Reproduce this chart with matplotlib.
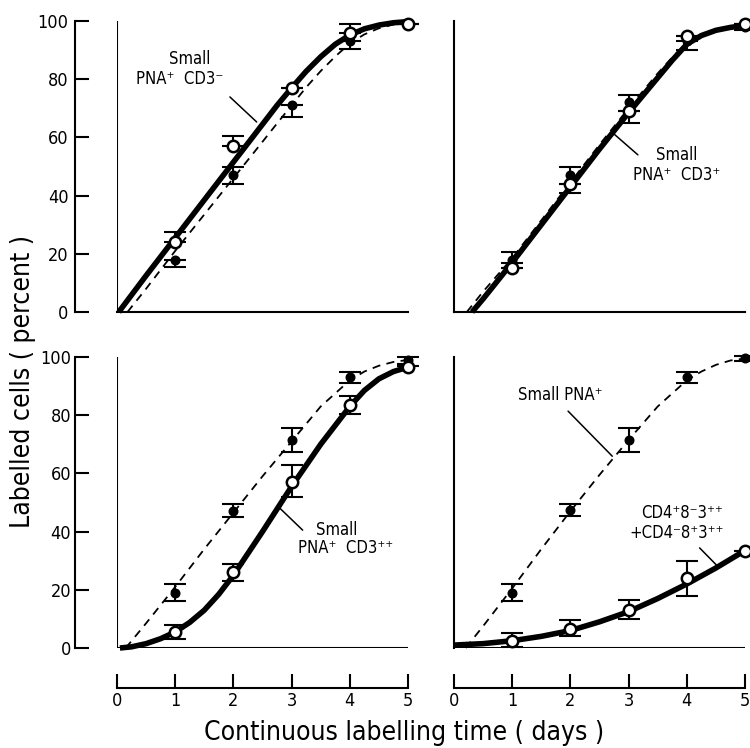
import matplotlib
matplotlib.use("Agg")
import matplotlib.pyplot as plt

plt.rcParams['font.family'] = ['DejaVu Sans']
FONT = dict(family=['DejaVu Sans'], stretch='condensed')

days = [1, 2, 3, 4, 5]
y_ticks = [0, 20, 40, 60, 80, 100]
x_ticks = [0, 1, 2, 3, 4, 5]

# ---- panel A: Small PNA+ CD3-
a_open = [24, 57, 77, 96, 99]
a_open_lo = [0, 0, 0, 0, 0]
a_open_hi = [3.5, 3.5, 0, 3, 1]
a_fill = [18, 47, 71, 93, 99]
a_fill_lo = [2.5, 3, 4, 2.5, 0]
a_fill_hi = [0, 3, 0, 0, 0]
a_solid_x = [0.03, 0.5, 1, 1.5, 2, 2.5, 2.75, 3, 3.25, 3.5, 3.75, 4, 4.25, 4.5, 4.75, 5]
a_solid_y = [0, 12.5, 25.5, 38.5, 51.5, 64.5, 71, 77, 82.7, 87.7, 92, 95.2, 97.3, 98.6, 99.4, 99.8]
a_dash_x = [0.18, 0.5, 1, 1.5, 2, 2.5, 2.75, 3, 3.25, 3.5, 3.75, 4, 4.25, 4.5, 4.75, 5]
a_dash_y = [0, 8, 21, 33.5, 46, 58.5, 64.8, 71, 77.2, 82.8, 87.8, 92.3, 95.4, 97.5, 98.8, 99.5]

# ---- panel B: Small PNA+ CD3+
b_open = [15, 44, 69, 95, 99]
b_open_lo = [0, 0, 0, 0, 0]
b_open_hi = [0, 0, 0, 0, 0]
b_fill = [18, 47, 72, 93, 98]
b_fill_lo = [1, 6, 7, 3, 1]
b_fill_hi = [2.5, 3, 2.5, 0, 1]
b_solid_x = [0.31, 0.5, 1, 1.5, 2, 2.5, 3, 3.25, 3.5, 3.75, 4, 4.25, 4.5, 4.75, 5]
b_solid_y = [0, 4.5, 17, 30, 43, 56, 68.5, 74.5, 80.5, 86.5, 92, 95, 96.8, 97.8, 98.5]
b_dash_x = [0.22, 0.5, 1, 1.5, 2, 2.5, 3, 3.25, 3.5, 3.75, 4, 4.25, 4.5, 4.75, 5]
b_dash_y = [0, 7, 18.5, 31.5, 44.5, 57.5, 70, 76, 82, 87.5, 92.5, 95.3, 97, 98, 98.5]

# ---- panel C: Small PNA+ CD3++
c_open = [5.5, 26, 57, 83.5, 96.5]
c_open_lo = [2.5, 3, 5, 3, 1]
c_open_hi = [2.5, 3, 6, 3, 1]
c_fill = [19, 47, 71.5, 93, 99]
c_fill_lo = [3, 2, 4, 2, 2]
c_fill_hi = [3, 2.5, 4, 2, 1]
c_solid_x = [0.05, 0.25, 0.5, 0.75, 1, 1.25, 1.5, 1.75, 2, 2.5, 3, 3.5, 4, 4.25, 4.5, 4.75, 5]
c_solid_y = [0, 0.4, 1.5, 3.2, 5.5, 8.8, 13, 18.5, 25, 40, 55.5, 70, 83, 88.5, 92.5, 95, 96.5]
c_dash_x = [0.15, 0.5, 1, 1.5, 2, 2.5, 3, 3.5, 4, 4.25, 4.5, 4.75, 5]
c_dash_y = [0, 8.5, 21, 34, 46.5, 59, 71, 83, 92, 95, 97, 98.3, 99]

# ---- panel D: Small PNA+ vs CD4+8-3++ + CD4-8+3++
d_open = [2.5, 6.5, 13, 24, 33.5]
d_open_lo = [2, 2.5, 3, 6, 0]
d_open_hi = [2.5, 3, 3.5, 6, 0]
d_fill = [19, 47.5, 71.5, 93, 99.5]
d_fill_lo = [3, 2, 4, 2, 1]
d_fill_hi = [3, 2, 4, 2, 1]
d_solid_x = [0, 0.5, 1, 1.5, 2, 2.5, 3, 3.5, 4, 4.5, 5]
d_solid_y = [1, 1.5, 2.5, 4, 6, 9, 12.5, 17, 22, 27.5, 33.5]
d_dash_x = [0.2, 0.5, 1, 1.5, 2, 2.5, 3, 3.5, 4, 4.25, 4.5, 4.75, 5]
d_dash_y = [0, 7.5, 20.5, 34, 47, 59.5, 71.5, 83, 92, 95, 97.3, 98.8, 99.5]

W, H = 750, 748
fig = plt.figure(figsize=(W / 100, H / 100), dpi=100)


def axes_px(left, top, right, bottom):
    return fig.add_axes([left / W, 1 - bottom / H, (right - left) / W, (bottom - top) / H])


axA = axes_px(117, 21, 408, 312)
axB = axes_px(454, 21, 745, 312)
axC = axes_px(117, 357, 408, 648)
axD = axes_px(454, 357, 745, 648)

panels = [
    (axA, a_open, a_open_lo, a_open_hi, a_fill, a_fill_lo, a_fill_hi, a_solid_x, a_solid_y, a_dash_x, a_dash_y),
    (axB, b_open, b_open_lo, b_open_hi, b_fill, b_fill_lo, b_fill_hi, b_solid_x, b_solid_y, b_dash_x, b_dash_y),
    (axC, c_open, c_open_lo, c_open_hi, c_fill, c_fill_lo, c_fill_hi, c_solid_x, c_solid_y, c_dash_x, c_dash_y),
    (axD, d_open, d_open_lo, d_open_hi, d_fill, d_fill_lo, d_fill_hi, d_solid_x, d_solid_y, d_dash_x, d_dash_y),
]

for ax, op, oplo, ophi, fl, fllo, flhi, sx, sy, dx, dy in panels:
    ax.set_xlim(0, 5)
    ax.set_ylim(0, 100)
    for s in ['top', 'right']:
        ax.spines[s].set_visible(False)
    ax.spines['left'].set_linewidth(1.5)
    ax.spines['bottom'].set_linewidth(1.5)
    ax.tick_params(left=False, bottom=False, labelleft=False, labelbottom=False)
    ax.plot(dx, dy, color='black', lw=1.3, dashes=(4.5, 3.5), clip_on=False, zorder=2)
    ax.errorbar(days, fl, yerr=[fllo, flhi], fmt='o', color='black', ms=6.2,
                capsize=8, capthick=1.5, elinewidth=1.5, clip_on=False, zorder=3)
    ax.plot(sx, sy, color='black', lw=4.0, solid_capstyle='butt', solid_joinstyle='round',
            clip_on=False, zorder=4)
    ax.errorbar(days, op, yerr=[oplo, ophi], fmt='none', ecolor='black',
                capsize=8, capthick=1.5, elinewidth=1.5, zorder=5)
    ax.plot(days, op, 'o', ms=8.2, mfc='white', mec='black', mew=1.8, clip_on=False, zorder=6)

# offset y axes on left panels
for ax in (axA, axC):
    ax.axvline(0, color='black', lw=1.5, zorder=1)
    ax.spines['left'].set_position(('outward', 30))
    ax.set_yticks(y_ticks)
    ax.tick_params(left=True, labelleft=True, direction='in', length=10, width=1.5, pad=5)
    for t in ax.get_yticklabels():
        t.set_fontsize(13)
        t.set_fontstretch('condensed')

# offset x axes on bottom panels
for ax in (axC, axD):
    ax.axhline(0, color='black', lw=1.5, zorder=1)
    ax.spines['bottom'].set_position(('outward', 29))
    ax.set_xticks(x_ticks)
    ax.tick_params(bottom=True, labelbottom=True, direction='in', length=10, width=1.5, pad=3)
    for t in ax.get_xticklabels():
        t.set_fontsize(13)
        t.set_fontstretch('condensed')

ann_fs = 12
line_kw = dict(arrowstyle='-', color='black', lw=1.1, shrinkA=0, shrinkB=0)

# Panel A
axA.text(1.25, 87, 'Small', ha='center', va='center', fontsize=ann_fs, **FONT)
axA.text(1.08, 80, 'PNA\u207a  CD3\u207b', ha='center', va='center', fontsize=ann_fs, **FONT)
axA.annotate('', xy=(2.40, 65.3), xytext=(1.94, 73.9), arrowprops=line_kw)

# Panel B
axB.text(3.82, 54, 'Small', ha='center', va='center', fontsize=ann_fs, **FONT)
axB.text(3.82, 47, 'PNA\u207a  CD3\u207a', ha='center', va='center', fontsize=ann_fs, **FONT)
axB.annotate('', xy=(2.73, 61.5), xytext=(3.16, 54), arrowprops=line_kw)

# Panel C
axC.text(3.78, 40.5, 'Small', ha='center', va='center', fontsize=ann_fs, **FONT)
axC.text(3.92, 34.5, 'PNA\u207a  CD3\u207a\u207a', ha='center', va='center', fontsize=ann_fs, **FONT)
axC.annotate('', xy=(2.80, 48), xytext=(3.19, 40.5), arrowprops=line_kw)

# Panel D
axD.text(1.83, 87, 'Small PNA\u207a', ha='center', va='center', fontsize=ann_fs, **FONT)
axD.annotate('', xy=(2.72, 65.9), xytext=(1.96, 81.4), arrowprops=line_kw)
axD.text(3.91, 46.4, 'CD4\u207a8\u207b3\u207a\u207a', ha='center', va='center', fontsize=ann_fs, **FONT)
axD.text(3.83, 39.5, '+CD4\u207b8\u207a3\u207a\u207a', ha='center', va='center', fontsize=ann_fs, **FONT)
axD.annotate('', xy=(4.51, 28.5), xytext=(4.22, 34.4), arrowprops=line_kw)

fig.text(23 / W, 1 - 381 / H, 'Labelled cells ( percent )', rotation=90, ha='center', va='center',
         fontsize=19, **FONT)
fig.text(404 / W, 1 - 733 / H, 'Continuous labelling time ( days )', ha='center', va='center',
         fontsize=19, **FONT)

fig.savefig('out.png', dpi=100)
